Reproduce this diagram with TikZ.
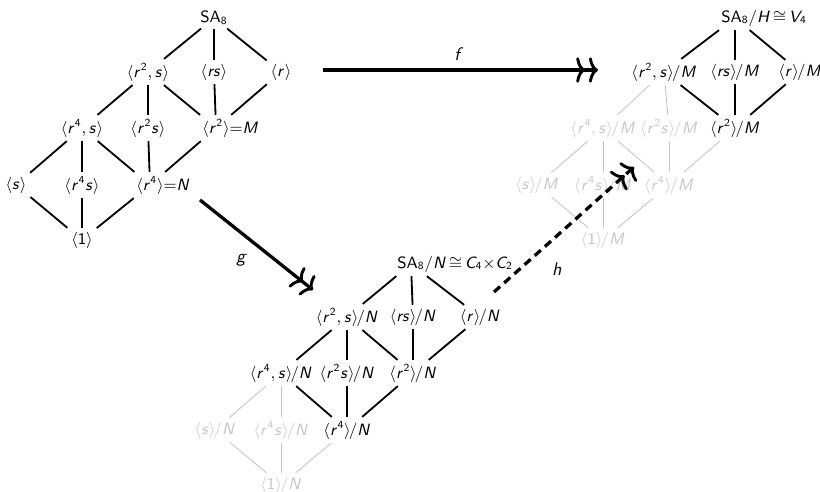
\documentclass[tikz,border=0pt]{standalone}
\usepackage{amsmath}
\usepackage{amssymb}
\usepackage{tikz}
\usetikzlibrary{arrows.meta}

% sans serif letters and digits in math
\DeclareSymbolFont{sfletters}{OT1}{cmss}{m}{sl}
\DeclareSymbolFont{sfdigits}{OT1}{cmss}{m}{n}
\DeclareMathSymbol{r}{\mathalpha}{sfletters}{`r}
\DeclareMathSymbol{s}{\mathalpha}{sfletters}{`s}
\DeclareMathSymbol{f}{\mathalpha}{sfletters}{`f}
\DeclareMathSymbol{g}{\mathalpha}{sfletters}{`g}
\DeclareMathSymbol{h}{\mathalpha}{sfletters}{`h}
\DeclareMathSymbol{M}{\mathalpha}{sfletters}{`M}
\DeclareMathSymbol{N}{\mathalpha}{sfletters}{`N}
\DeclareMathSymbol{H}{\mathalpha}{sfletters}{`H}
\DeclareMathSymbol{V}{\mathalpha}{sfletters}{`V}
\DeclareMathSymbol{C}{\mathalpha}{sfletters}{`C}
\DeclareMathSymbol{1}{\mathalpha}{sfdigits}{`1}
\DeclareMathSymbol{2}{\mathalpha}{sfdigits}{`2}
\DeclareMathSymbol{4}{\mathalpha}{sfdigits}{`4}
\DeclareMathSymbol{8}{\mathalpha}{sfdigits}{`8}
\newcommand{\qt}{\mkern-2mu/}
\newcommand{\iso}{\mkern3mu{\cong}\mkern3mu}

\tikzset{
	grp/.style={inner sep=2pt, font=\small},
	faint/.style={grp, text=black!22},
	link/.style={line width=1pt},
	faintlink/.style={line width=.5pt, draw=black!22},
	cmto/.tip={Computer Modern Rightarrow[length=5pt,width=14pt,line width=1.6pt]},
	onto/.style={line width=1.8pt, -{cmto[sep=2pt]cmto[]}},
}

\begin{document}
\begin{tikzpicture}[x=.55pt, y=-.55pt]
				\useasboundingbox (0,0) rectangle (820,492);
				% subgroup lattice
				\node[grp] (L0) at (214,18) {$\mathsf{SA}_8$};
				\node[grp] (L1) at (148,72) {$\langle r^2{,}\,s\rangle$};
				\node[grp] (L2) at (214,72) {$\langle rs\rangle$};
				\node[grp] (L3) at (281,72) {$\langle r\rangle$};
				\node[grp] (L4) at (82,128) {$\langle r^4{,}\,s\rangle$};
				\node[grp] (L5) at (148,128) {$\langle r^2s\rangle$};
				\node[grp] (L6) at (216,128) {$\langle r^2\rangle\rlap{${=}M$}$};
				\node[grp] (L7) at (16,185) {$\langle s\rangle$};
				\node[grp] (L8) at (82,185) {$\langle r^4s\rangle$};
				\node[grp] (L9) at (150,185) {$\langle r^4\rangle\rlap{${=}N$}$};
				\node[grp] (L10) at (82,240) {$\langle 1\rangle$};
				\foreach \a/\b in {0/1,0/2,0/3,1/4,1/5,1/6,2/6,3/6,4/7,4/8,4/9,5/9,6/9,7/10,8/10,9/10} {
					\draw[link] (L\a) -- (L\b);
				}
				% quotient by M
				\node[grp] (R0) at (735,18) {$\mathsf{SA}_8\rlap{$/H\iso V_4$}$};
				\node[grp] (R1) at (664,72) {$\langle r^2{,}\,s\rangle\qt M$};
				\node[grp] (R2) at (735,72) {$\langle rs\rangle\qt M$};
				\node[grp] (R3) at (800,72) {$\langle r\rangle\qt M$};
				\node[faint] (R4) at (603,128) {$\langle r^4{,}\,s\rangle\qt M$};
				\node[faint] (R5) at (669,128) {$\langle r^2s\rangle\qt M$};
				\node[grp] (R6) at (735,128) {$\langle r^2\rangle\qt M$};
				\node[faint] (R7) at (537,185) {$\langle s\rangle\qt M$};
				\node[faint] (R8) at (603,185) {$\langle r^4s\rangle\qt M$};
				\node[faint] (R9) at (669,185) {$\langle r^4\rangle\qt M$};
				\node[faint] (R10) at (603,240) {$\langle 1\rangle\qt M$};
				\foreach \a/\b in {0/1,0/2,0/3,1/6,2/6,3/6} {
					\draw[link] (R\a) -- (R\b);
				}
				\foreach \a/\b in {1/4,1/5,4/7,4/8,4/9,5/9,6/9,7/10,8/10,9/10} {
					\draw[faintlink] (R\a) -- (R\b);
				}
				% quotient by N
				\node[grp] (B0) at (411,264) {$\mathsf{SA}_8\rlap{$/N\iso C_4{\times}C_2$}$};
				\node[grp] (B1) at (347,317) {$\langle r^2{,}\,s\rangle\qt N$};
				\node[grp] (B2) at (413,317) {$\langle rs\rangle\qt N$};
				\node[grp] (B3) at (480,317) {$\langle r\rangle\qt N$};
				\node[grp] (B4) at (281,373) {$\langle r^4{,}\,s\rangle\qt N$};
				\node[grp] (B5) at (347,373) {$\langle r^2s\rangle\qt N$};
				\node[grp] (B6) at (413,373) {$\langle r^2\rangle\qt N$};
				\node[faint] (B7) at (215,430) {$\langle s\rangle\qt N$};
				\node[faint] (B8) at (281,430) {$\langle r^4s\rangle\qt N$};
				\node[grp] (B9) at (347,430) {$\langle r^4\rangle\qt N$};
				\node[faint] (B10) at (281,485) {$\langle 1\rangle\qt N$};
				\foreach \a/\b in {0/1,0/2,0/3,1/4,1/5,1/6,2/6,3/6,4/9,5/9,6/9} {
					\draw[link] (B\a) -- (B\b);
				}
				\foreach \a/\b in {4/7,4/8,7/10,8/10,9/10} {
					\draw[faintlink] (B\a) -- (B\b);
				}
				% maps
				\coordinate (fs) at (323,70);
				\coordinate (fe) at (598,70);
				\coordinate (gs) at (200,200);
				\coordinate (ge) at (313,290);
				\coordinate (hs) at (494,292);
				\coordinate (he) at (634,167);
				\draw[onto] (fs) -- (fe);
				\draw[onto] (gs) -- (ge);
				\draw[onto, dash pattern=on 4.5pt off 3pt] (hs) -- (he);
				\node (f) at (459,54) {$f$};
				\node (g) at (242,260) {$g$};
				\node (h) at (557,269) {$h$};
\end{tikzpicture}
\end{document}
